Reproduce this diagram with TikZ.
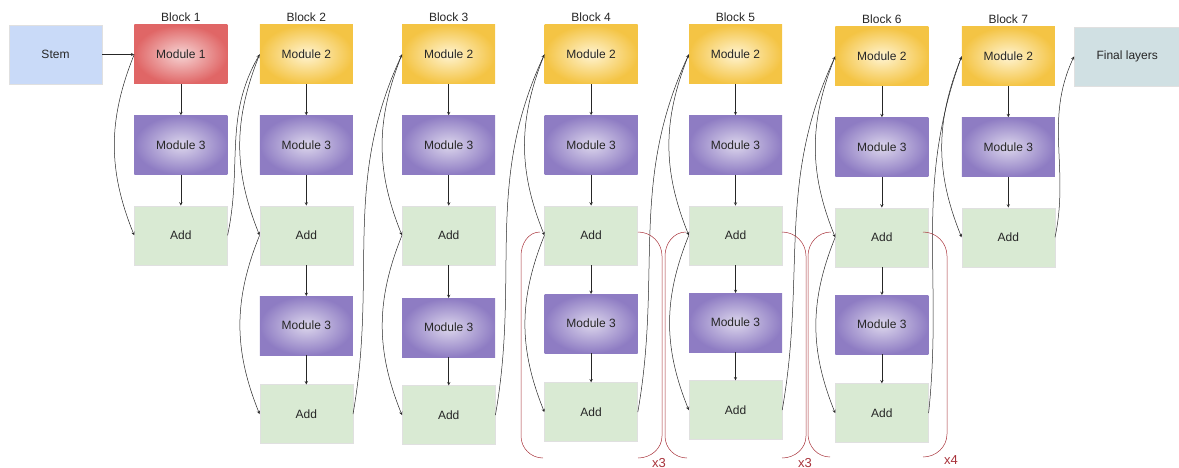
\documentclass[tikz,border=0pt]{standalone}
\usepackage{fontspec}
\setmainfont{Liberation Sans}
\usetikzlibrary{positioning}
\usetikzlibrary{arrows}
\usetikzlibrary{calc}

\definecolor{stemblue}{HTML}{C9DAF8}
\definecolor{finalgray}{HTML}{D0E0E3}
\definecolor{addgreen}{HTML}{D9EAD3}
\definecolor{redin}{HTML}{F6D4D4}
\definecolor{redout}{HTML}{E06666}
\definecolor{yelin}{HTML}{FFF4D2}
\definecolor{yelout}{HTML}{F4C444}
\definecolor{purin}{HTML}{DCD6EC}
\definecolor{purout}{HTML}{8E7CC3}
\definecolor{repred}{HTML}{A8323A}

\tikzset{
  box/.style={minimum width=93pt, minimum height=59pt, inner sep=0pt,
              text=black!85},
  plainbox/.style={box, draw=black!12, line width=0.4pt},
  stembox/.style={plainbox, fill=stemblue},
  finalbox/.style={plainbox, fill=finalgray, minimum width=106pt},
  addbox/.style={plainbox, fill=addgreen},
  mod1box/.style={box, fill=redout, inner color=redin, outer color=redout},
  mod2box/.style={box, fill=yelout, inner color=yelin, outer color=yelout},
  mod3box/.style={box, fill=purout, inner color=purin, outer color=purout},
  blocklbl/.style={text=black!85},
  link/.style={->, line width=0.5pt, black!85},
  repbrace/.style={line width=0.5pt, repred},
  replbl/.style={text=repred, font=\fontsize{13}{15}\selectfont}
}

\begin{document}
\begin{tikzpicture}[x=1pt, y=1pt, >=stealth, font=\fontsize{12}{14}\selectfont]
\useasboundingbox (0,0) rectangle (1179,-468);

% Stem
\node[stembox] (stem) at (55.5,-54.5) {Stem};

% Block 1
\node[mod1box, right=32pt of stem] (b1m1) {Module 1};
\node[mod3box, below=31pt of b1m1] (b1m3) {Module 3};
\node[addbox, below=31pt of b1m3] (b1a1) {Add};

% Block 2
\node[mod2box, right=32pt of b1m1] (b2m2) {Module 2};
\node[mod3box, below=31pt of b2m2] (b2m3) {Module 3};
\node[addbox, below=31pt of b2m3] (b2a1) {Add};
\node[mod3box, below=31pt of b2a1] (b2m3b) {Module 3};
\node[addbox, below=29pt of b2m3b] (b2a2) {Add};

% Block 3
\node[mod2box, right=49pt of b2m2] (b3m2) {Module 2};
\node[mod3box, below=31pt of b3m2] (b3m3) {Module 3};
\node[addbox, below=31pt of b3m3] (b3a1) {Add};
\node[mod3box, below=33pt of b3a1] (b3m3b) {Module 3};
\node[addbox, below=28pt of b3m3b] (b3a2) {Add};

% Block 4
\node[mod2box, right=49pt of b3m2] (b4m2) {Module 2};
\node[mod3box, below=31pt of b4m2] (b4m3) {Module 3};
\node[addbox, below=31pt of b4m3] (b4a1) {Add};
\node[mod3box, below=29pt of b4a1] (b4m3b) {Module 3};
\node[addbox, below=29pt of b4m3b] (b4a2) {Add};

% Block 5
\node[mod2box, right=51pt of b4m2] (b5m2) {Module 2};
\node[mod3box, below=31pt of b5m2] (b5m3) {Module 3};
\node[addbox, below=31pt of b5m3] (b5a1) {Add};
\node[mod3box, below=28pt of b5a1] (b5m3b) {Module 3};
\node[addbox, below=28pt of b5m3b] (b5a2) {Add};

% Block 6
\node[mod2box, right=53pt of b5m2, yshift=-2pt] (b6m2) {Module 2};
\node[mod3box, below=31pt of b6m2] (b6m3) {Module 3};
\node[addbox, below=31pt of b6m3] (b6a1) {Add};
\node[mod3box, below=28pt of b6a1] (b6m3b) {Module 3};
\node[addbox, below=29pt of b6m3b] (b6a2) {Add};

% Block 7
\node[mod2box, right=33pt of b6m2] (b7m2) {Module 2};
\node[mod3box, below=31pt of b7m2] (b7m3) {Module 3};
\node[addbox, below=31pt of b7m3] (b7a1) {Add};

% Final layers
\node[finalbox, right=19pt of b7m2] (final) {Final layers};

% Block titles
\node[blocklbl, above=0pt of b1m1] (t1) {Block 1};
\node[blocklbl, above=0pt of b2m2] (t2) {Block 2};
\node[blocklbl, above=0pt of b3m2] (t3) {Block 3};
\node[blocklbl, above=0pt of b4m2] (t4) {Block 4};
\node[blocklbl, above=0pt of b5m2] (t5) {Block 5};
\node[blocklbl, above=0pt of b6m2] (t6) {Block 6};
\node[blocklbl, above=0pt of b7m2] (t7) {Block 7};

% Main path down each block
\draw[link] (stem) -- (b1m1);
\draw[link] (b1m1) -- (b1m3);
\draw[link] (b1m3) -- (b1a1);
\draw[link] (b2m2) -- (b2m3);
\draw[link] (b2m3) -- (b2a1);
\draw[link] (b2a1) -- (b2m3b);
\draw[link] (b2m3b) -- (b2a2);
\draw[link] (b3m2) -- (b3m3);
\draw[link] (b3m3) -- (b3a1);
\draw[link] (b3a1) -- (b3m3b);
\draw[link] (b3m3b) -- (b3a2);
\draw[link] (b4m2) -- (b4m3);
\draw[link] (b4m3) -- (b4a1);
\draw[link] (b4a1) -- (b4m3b);
\draw[link] (b4m3b) -- (b4a2);
\draw[link] (b5m2) -- (b5m3);
\draw[link] (b5m3) -- (b5a1);
\draw[link] (b5a1) -- (b5m3b);
\draw[link] (b5m3b) -- (b5a2);
\draw[link] (b6m2) -- (b6m3);
\draw[link] (b6m3) -- (b6a1);
\draw[link] (b6a1) -- (b6m3b);
\draw[link] (b6m3b) -- (b6a2);
\draw[link] (b7m2) -- (b7m3);
\draw[link] (b7m3) -- (b7a1);

% Skip connections
\draw[link] (b1m1.west) to[bend right=22] (b1a1.west);
\draw[link] (b2m2.west) to[bend right=22] (b2a1.west);
\draw[link] (b2a1.west) to[bend right=22] (b2a2.west);
\draw[link] (b3m2.west) to[bend right=22] (b3a1.west);
\draw[link] (b3a1.west) to[bend right=22] (b3a2.west);
\draw[link] (b4m2.west) to[bend right=22] (b4a1.west);
\draw[link] (b4a1.west) to[bend right=22] (b4a2.west);
\draw[link] (b5m2.west) to[bend right=22] (b5a1.west);
\draw[link] (b5a1.west) to[bend right=22] (b5a2.west);
\draw[link] (b6m2.west) to[bend right=22] (b6a1.west);
\draw[link] (b6a1.west) to[bend right=22] (b6a2.west);
\draw[link] (b7m2.west) to[bend right=22] (b7a1.west);

% Block to block
\draw[link] (b1a1.east) to[out=78, in=240] (b2m2.west);
\draw[link] (b2a2.east) to[out=80, in=245] (b3m2.west);
\draw[link] (b3a2.east) to[out=80, in=245] (b4m2.west);
\draw[link] (b4a2.east) to[out=80, in=245] (b5m2.west);
\draw[link] (b5a2.east) to[out=80, in=245] (b6m2.west);
\draw[link] (b6a2.east) to[out=84, in=250] (b7m2.west);
\draw[link] (b7a1.east) to[out=78, in=245] (final.west);

% Repeat brackets
\draw[repbrace] (540,-232) to[out=180, in=90] (521,-256) -- (521,-436) to[out=-90, in=180] (543,-458);
\draw[repbrace] (638,-232) to[out=0, in=90] (662,-256) -- (662,-436) to[out=-90, in=0] (638,-458);
\node[replbl] (r4) at (659,-463) {x3};

\draw[repbrace] (686,-232) to[out=180, in=90] (665,-256) -- (665,-436) to[out=-90, in=180] (687,-458);
\draw[repbrace] (782,-232) to[out=0, in=90] (806,-256) -- (806,-436) to[out=-90, in=0] (782,-458);
\node[replbl] (r5) at (805,-463) {x3};

\draw[repbrace] (831,-232) to[out=180, in=90] (808,-256) -- (808,-434) to[out=-90, in=180] (830,-457);
\draw[repbrace] (923,-232) to[out=0, in=90] (947,-256) -- (947,-434) to[out=-90, in=0] (923,-457);
\node[replbl] (r6) at (951,-460) {x4};

\end{tikzpicture}
\end{document}
